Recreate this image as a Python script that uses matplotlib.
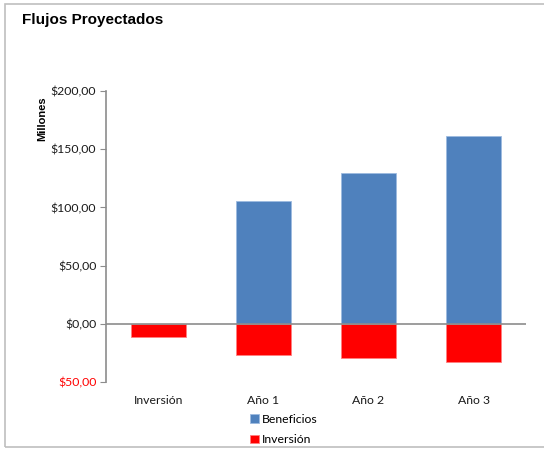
import matplotlib
matplotlib.use("Agg")
import matplotlib.pyplot as plt
from matplotlib.patches import Rectangle
from matplotlib.ticker import FuncFormatter

categories = ["Inversión", "Año 1", "Año 2", "Año 3"]
beneficios = [0, 105.5, 129.5, 161.0]
inversion = [-11.0, -26.5, -29.0, -32.5]
yticks = [-50, 0, 50, 100, 150, 200]

W, H = 544, 451
fig = plt.figure(figsize=(W / 100, H / 100), dpi=100)

# outer chart frame
fig.patches.append(Rectangle((5 / W, 4 / H), 560 / W, (H - 8) / H, transform=fig.transFigure,
                             fill=False, edgecolor="#bfbfbf", linewidth=1.2))

ax = fig.add_axes([106 / W, (H - 382) / H, 420 / W, (382 - 91) / H])

blue = "#4f81bd"
red = "#ff0000"
x = range(len(categories))
ax.bar(x, beneficios, width=0.52, color=blue, edgecolor="#9dbbe0", linewidth=0.6, label="Beneficios")
ax.bar(x, inversion, width=0.52, color=red, edgecolor="#ff8080", linewidth=0.6, label="Inversión")

ax.set_xlim(-0.5, 3.5)
ax.set_ylim(-50, 200)
ax.axhline(0, color="#8c8c8c", linewidth=1.2, zorder=3)

font = "Lato"
def money(v, pos):
    return "${:,.2f}".format(abs(v)).replace(",", "X").replace(".", ",").replace("X", ".")
ax.set_yticks(yticks)
ax.yaxis.set_major_formatter(FuncFormatter(money))
for lbl, v in zip(ax.get_yticklabels(), yticks):
    lbl.set_fontfamily(font)
    lbl.set_fontsize(8.8)
    lbl.set_color(red if v < 0 else "#1a1a1a")
ax.tick_params(axis="y", direction="out", length=4, color="#8c8c8c", pad=3)

ax.set_xticks(list(x))
ax.set_xticklabels(categories, fontfamily=font, fontsize=8.8, color="#1a1a1a")
ax.tick_params(axis="x", length=0, pad=9)

for s in ["top", "right", "bottom"]:
    ax.spines[s].set_visible(False)
ax.spines["left"].set_color("#8c8c8c")
ax.spines["left"].set_linewidth(1.2)

ax.set_ylabel("Millones", fontfamily="Liberation Sans", fontweight="bold", fontsize=8)
ax.yaxis.set_label_coords(-0.14, 0.905)

fig.text(22 / W, 1 - 20 / H, "Flujos Proyectados", fontfamily="Liberation Sans",
         fontweight="bold", fontsize=11, va="center", ha="left", color="#000000")

leg = fig.legend(loc="upper left", bbox_to_anchor=(239 / W, 1 - 403 / H), frameon=False,
                 prop={"family": font, "size": 8.8}, handlelength=0.7, handleheight=0.7,
                 handletextpad=0.3, labelspacing=0.75)

fig.savefig("out.png", dpi=100)
